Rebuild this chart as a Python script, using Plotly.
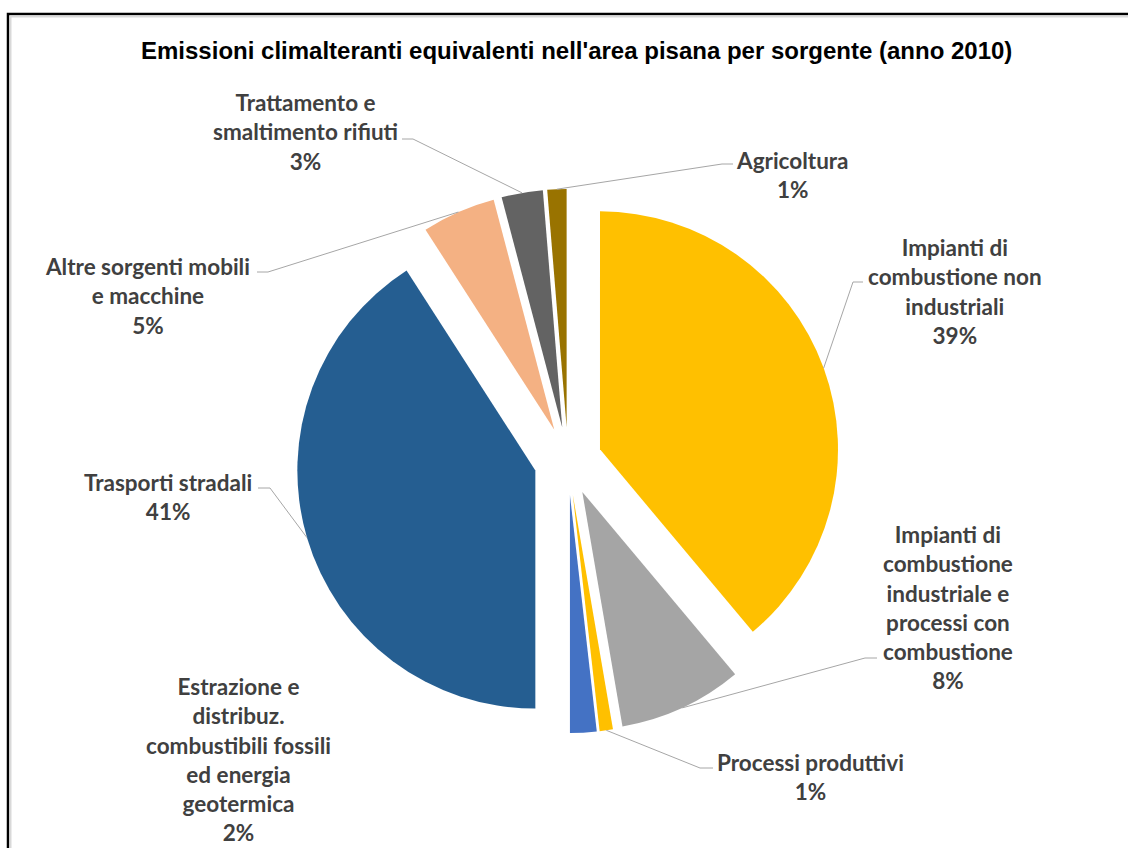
import math
import plotly.graph_objects as go

# ---------------- data ----------------
categories = [
    "Impianti di combustione non industriali",
    "Impianti di combustione industriale e processi con combustione",
    "Processi produttivi",
    "Estrazione e distribuz. combustibili fossili ed energia geotermica",
    "Trasporti stradali",
    "Altre sorgenti mobili e macchine",
    "Trattamento e smaltimento rifiuti",
    "Agricoltura",
]
values = [38.9, 8.4, 0.9, 1.8, 40.9, 5.0, 2.8, 1.3]
label_lines = [
    ["Impianti di", "combustione non", "industriali"],
    ["Impianti di", "combustione", "industriale e", "processi con", "combustione"],
    ["Processi produttivi"],
    ["Estrazione e", "distribuz.", "combustibili fossili", "ed energia", "geotermica"],
    ["Trasporti stradali"],
    ["Altre sorgenti mobili", "e macchine"],
    ["Trattamento e", "smaltimento rifiuti"],
    ["Agricoltura"],
]
colors = ["#FFC000", "#A5A5A5", "#FFC000", "#4472C4", "#255E91", "#F4B183", "#636363", "#997300"]
title = "Emissioni climalteranti equivalenti nell'area pisana per sorgente (anno 2010)"

# ---------------- layout geometry (pixels) ----------------
W, H = 1128, 848
CX, CY = 568, 461          # pie centre
R = 238                    # slice radius
PULL = 0.143               # explosion (fraction of radius)
HALF = R * (1 + PULL)

def px(x):
    return x / W

def py(y):
    return 1 - y / H

# label block centres (x, y) and leader-line anchor (label end, elbow) in pixels
label_pos = [
    (955, 291), (948, 607), (810, 777), (238, 759),
    (168, 497), (147, 296), (305, 132), (792, 175),
]
leader = [
    ((863, 282), (853, 282)),
    ((877, 658), (865, 658)),
    ((713, 768), (700, 768)),
    None,
    ((258, 488), (270, 488)),
    ((257, 272), (268, 272)),
    ((402, 139), (413, 139)),
    ((733, 164), (722, 164)),
]

total = sum(values)
fig = go.Figure()
fig.add_trace(go.Pie(
    labels=categories,
    values=values,
    sort=False,
    direction="clockwise",
    rotation=0,
    pull=[PULL] * len(values),
    marker=dict(colors=colors, line=dict(width=0)),
    textinfo="none",
    hoverinfo="label+percent",
    showlegend=False,
    domain=dict(x=[px(CX - HALF), px(CX + HALF)], y=[py(CY + HALF), py(CY - HALF)]),
))

annotations = []
shapes = []
cum = 0.0
for i, v in enumerate(values):
    mid = (cum + v / 2) / total * 2 * math.pi
    cum += v
    pct = round(v / total * 100)
    text = "<br>".join(label_lines[i] + [f"{pct}%"])
    lx, ly = label_pos[i]
    annotations.append(dict(
        x=px(lx), y=py(ly), xref="paper", yref="paper",
        text=f"<b>{text}</b>", showarrow=False, align="center",
        xanchor="center", yanchor="middle",
        font=dict(family="Lato, Carlito, sans-serif", size=22.5, color="#404040"),
    ))
    if leader[i] is not None:
        (ex, ey), (bx, by) = leader[i]
        ax = CX + HALF * math.sin(mid)
        ay = CY - HALF * math.cos(mid)
        path = f"M {px(ex)},{py(ey)} L {px(bx)},{py(by)} L {px(ax)},{py(ay)}"
        shapes.append(dict(type="path", xref="paper", yref="paper", path=path,
                           line=dict(color="#A6A6A6", width=1)))

annotations.append(dict(
    x=px(576), y=py(50), xref="paper", yref="paper",
    text=f"<b>{title}</b>", showarrow=False,
    xanchor="center", yanchor="middle",
    font=dict(family="Liberation Sans Narrow, Arial Narrow, Liberation Sans, Arial, sans-serif",
              size=24, color="#000000"),
))

# chart frame
shapes.append(dict(type="rect", xref="paper", yref="paper",
                   x0=px(8), y0=py(14), x1=px(W + 20), y1=py(H + 20),
                   line=dict(color="#000000", width=2.5), fillcolor="rgba(0,0,0,0)"))
shapes.append(dict(type="rect", xref="paper", yref="paper",
                   x0=px(10.5), y0=py(16.5), x1=px(W + 20), y1=py(H + 20),
                   line=dict(color="#D9D9D9", width=2), fillcolor="rgba(0,0,0,0)"))

fig.update_layout(
    width=W, height=H,
    margin=dict(l=0, r=0, t=0, b=0),
    paper_bgcolor="#FFFFFF",
    plot_bgcolor="#FFFFFF",
    annotations=annotations,
    shapes=shapes,
)

fig.write_html("out.html")
